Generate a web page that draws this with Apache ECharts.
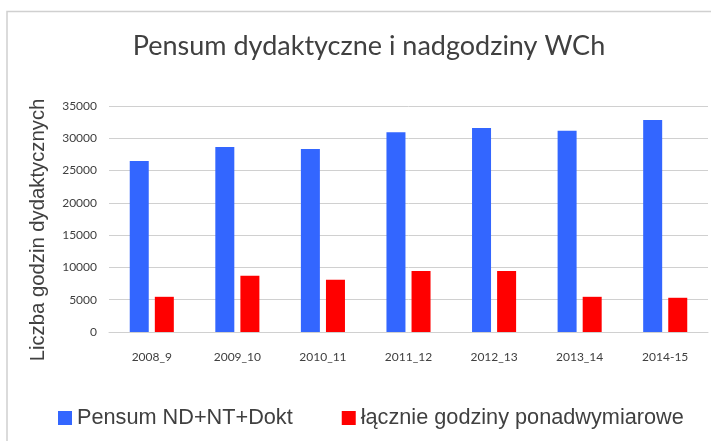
<!DOCTYPE html>
<html>
<head>
<meta charset="utf-8">
<script src="https://cdn.jsdelivr.net/npm/echarts@6/dist/echarts.min.js"></script>
<style>html,body{margin:0;padding:0;background:#fff;}#c{width:711px;height:441px;}</style>
</head>
<body>
<div id="c"></div>
<script>
const categories = ['2008_9','2009_10','2010_11','2011_12','2012_13','2013_14','2014-15'];
const pensum = [26500, 28650, 28350, 30950, 31600, 31150, 32850];
const nadgodziny = [5450, 8700, 8100, 9450, 9450, 5450, 5300];
const seriesNames = ['Pensum ND+NT+Dokt', 'łącznie godziny ponadwymiarowe'];

const chart = echarts.init(document.getElementById('c'));
chart.setOption({
  animation: false,
  backgroundColor: '#fff',
  title: {
    text: 'Pensum dydaktyczne i nadgodziny WCh',
    left: 364, top: 28, textAlign: 'center',
    textStyle: {fontFamily: 'Lato', fontSize: 27, fontWeight: 'normal', color: '#404040'}
  },
  graphic: [
    {type: 'polyline', shape: {points: [[7, 441], [7, 11.5], [711, 11.5]]},
     style: {stroke: '#d0d0d0', lineWidth: 1.5, fill: null}},
    {type: 'text', x: 38, y: 230, rotation: Math.PI / 2,
     style: {text: 'Liczba godzin dydaktycznych', fontFamily: 'Liberation Sans', fontSize: 20.3,
             fill: '#404040', align: 'center', verticalAlign: 'middle'}}
  ],
  legend: {
    left: 53, top: 402, itemWidth: 14, itemHeight: 14, itemGap: 49,
    icon: 'rect',
    textStyle: {fontFamily: 'Liberation Sans', fontSize: 21.7, color: '#404040'},
    data: seriesNames
  },
  grid: {left: 109, right: 3, top: 106, bottom: 109},
  xAxis: {
    type: 'category', data: categories,
    axisLine: {lineStyle: {color: '#d0d0d0', width: 1}},
    axisTick: {show: false},
    axisLabel: {margin: 19, fontFamily: 'Lato', fontSize: 12, color: '#404040'}
  },
  yAxis: {
    type: 'value', min: 0, max: 35000, interval: 5000,
    axisLine: {show: false}, axisTick: {show: false},
    splitLine: {lineStyle: {color: '#d0d0d0', width: 1}},
    axisLabel: {margin: 12, fontFamily: 'Lato', fontSize: 12, color: '#404040',
                formatter: function (v) { return String(v); }}
  },
  series: [
    {name: seriesNames[0], type: 'bar', data: pensum, barWidth: 19, barGap: '32%',
     itemStyle: {color: '#3366ff'}},
    {name: seriesNames[1], type: 'bar', data: nadgodziny, barWidth: 19,
     itemStyle: {color: '#ff0000'}}
  ]
});
</script>
</body>
</html>
